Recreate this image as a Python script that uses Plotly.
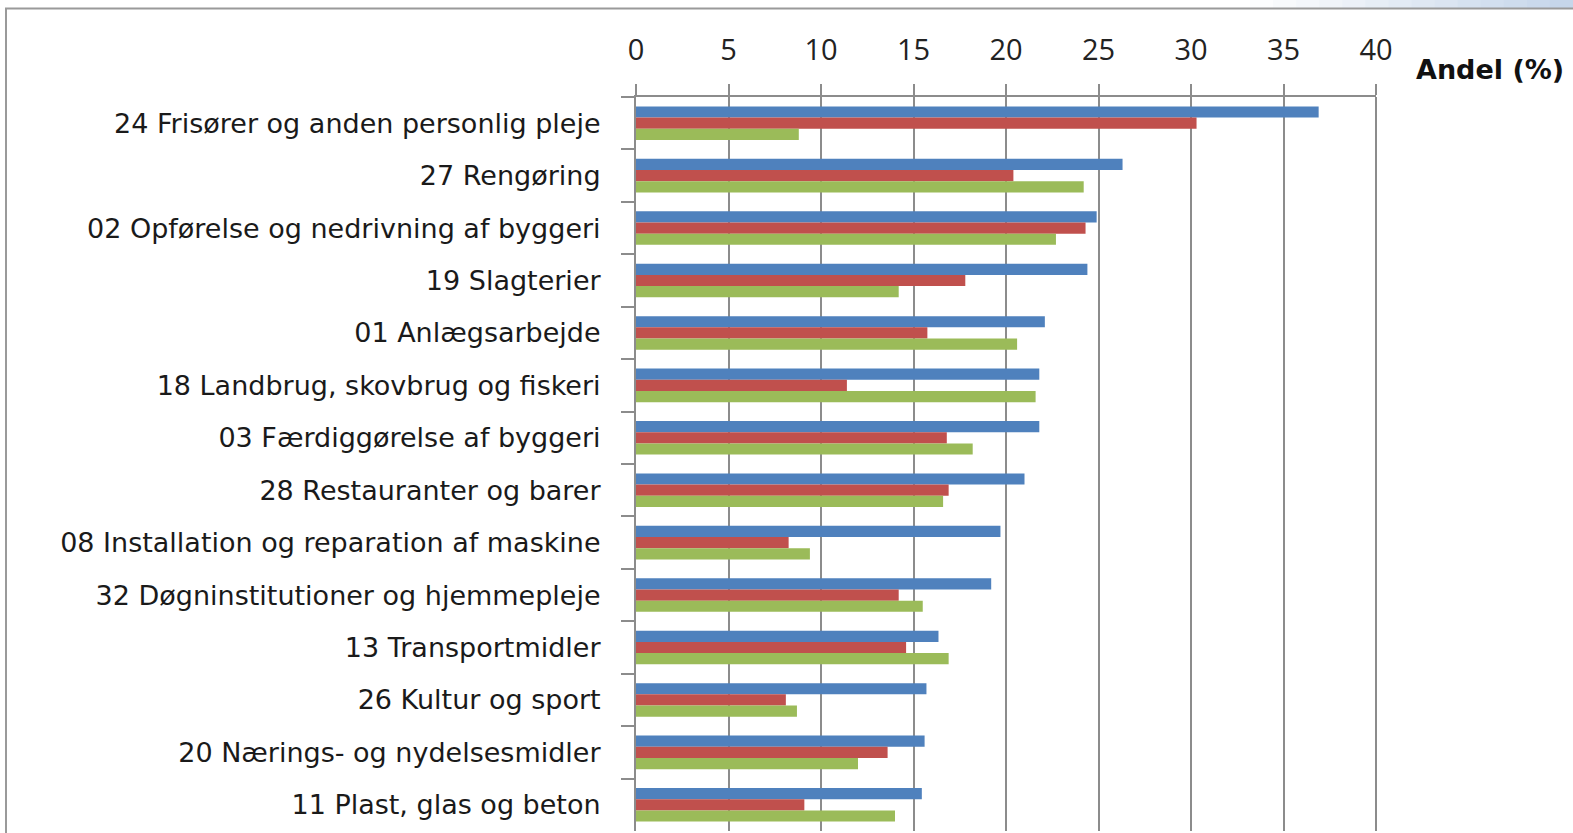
import plotly.graph_objects as go

categories = [
    "24 Frisører og anden personlig pleje",
    "27 Rengøring",
    "02 Opførelse og nedrivning af byggeri",
    "19 Slagterier",
    "01 Anlægsarbejde",
    "18 Landbrug, skovbrug og fiskeri",
    "03 Færdiggørelse af byggeri",
    "28 Restauranter og barer",
    "08 Installation og reparation af maskine",
    "32 Døgninstitutioner og hjemmepleje",
    "13 Transportmidler",
    "26 Kultur og sport",
    "20 Nærings- og nydelsesmidler",
    "11 Plast, glas og beton",
]
blue_values = [36.9, 26.3, 24.9, 24.4, 22.1, 21.8, 21.8, 21.0, 19.7, 19.2, 16.35, 15.7, 15.6, 15.45]
red_values = [30.3, 20.4, 24.3, 17.8, 15.75, 11.4, 16.8, 16.9, 8.25, 14.2, 14.6, 8.1, 13.6, 9.1]
green_values = [8.8, 24.2, 22.7, 14.2, 20.6, 21.6, 18.2, 16.6, 9.4, 15.5, 16.9, 8.7, 12.0, 14.0]
x_ticks = [0, 5, 10, 15, 20, 25, 30, 35, 40]
axis_title = "Andel (%)"

W, H = 1573, 833
L, R, T, B = 636, 1376, 97, 831

def px(X):
    return (X - L) / (R - L)

def py(Y):
    return (B - Y) / (B - T)

fig = go.Figure()
for vals, col in [(blue_values, "#4F81BD"), (red_values, "#C0504D"), (green_values, "#9BBB59")]:
    fig.add_trace(go.Bar(
        y=categories, x=vals, orientation="h",
        marker=dict(color=col, line=dict(width=0)),
        showlegend=False, hoverinfo="x+y",
    ))

grid = "#8c8c8c"
fig.update_layout(
    width=W, height=H,
    margin=dict(l=L, r=W - R, t=T, b=H - B, autoexpand=False),
    paper_bgcolor="white", plot_bgcolor="white",
    barmode="group", bargap=0.36, bargroupgap=0,
    xaxis=dict(
        side="top", range=[0, 40], tickvals=x_ticks, ticktext=[str(v) for v in x_ticks],
        ticks="outside", ticklen=11, tickwidth=2, tickcolor=grid,
        showline=True, linecolor=grid, linewidth=2,
        showgrid=True, gridcolor=grid, gridwidth=2, zeroline=False,
        tickfont=dict(family="Open Sans", size=29, color="#222222"),
        ticklabelstandoff=12, automargin=False, fixedrange=True,
    ),
    yaxis=dict(
        type="category", categoryorder="array", categoryarray=categories,
        autorange="reversed",
        ticks="outside", ticklen=13, tickwidth=2, tickcolor=grid, tickson="boundaries",
        showline=True, linecolor=grid, linewidth=2, showgrid=False, zeroline=False,
        tickfont=dict(family="DejaVu Sans", size=27, color="#1a1a1a"),
        ticklabelstandoff=28, automargin=False, fixedrange=True,
    ),
)

fig.add_annotation(
    text="<b>" + axis_title + "</b>", xref="paper", yref="paper",
    x=px(1414), y=py(70), xanchor="left", yanchor="middle", showarrow=False,
    font=dict(family="DejaVu Sans", size=27, color="#111111"),
)

shapes = []
# gridline at the right end of the value axis (plot area's right edge)
shapes.append(dict(type="line", xref="paper", yref="paper", x0=1, x1=1,
                   y0=0, y1=1, line=dict(color=grid, width=2), layer="above"))
# top gradient strip
n = 14
x_start = 1250
for i in range(n):
    x0 = x_start + (W - x_start) * i / n
    x1 = x_start + (W - x_start) * (i + 1) / n
    t = (i + 0.5) / n
    r = int(255 + (196 - 255) * t)
    g = int(255 + (213 - 255) * t)
    b = int(255 + (234 - 255) * t)
    shapes.append(dict(type="rect", xref="paper", yref="paper", x0=px(x0), x1=px(x1) + 0.002,
                       y0=py(8), y1=py(-2), line=dict(width=0),
                       fillcolor=f"rgb({r},{g},{b})", layer="below"))
# frame
shapes.append(dict(type="rect", xref="paper", yref="paper", x0=px(6), x1=px(W + 20),
                   y0=py(H + 20), y1=py(8.5), line=dict(color="#9a9a9a", width=2),
                   fillcolor="rgba(0,0,0,0)", layer="above"))
fig.update_layout(shapes=shapes)

fig.write_html("out.html", config={"displayModeBar": False},
               post_script="document.body.style.margin='0';document.body.style.overflow='hidden';")
